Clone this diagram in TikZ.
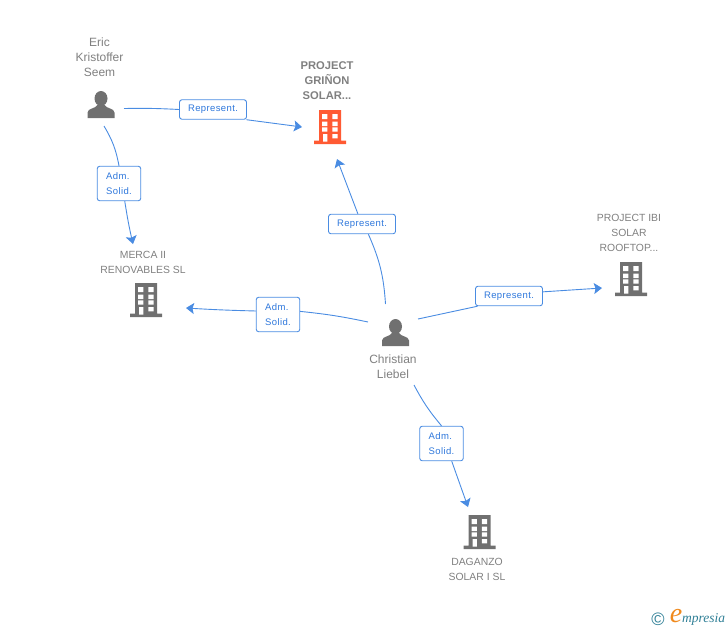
\documentclass[tikz,border=0pt]{standalone}
\usepackage{fontspec}
\setmainfont{Liberation Sans}
\newfontfamily\logofont{Liberation Serif}
\newfontfamily\boxfont[LetterSpace=4]{Liberation Sans}
\usetikzlibrary{arrows.meta}
\definecolor{linkblue}{HTML}{4A8CE2}
\definecolor{textblue}{HTML}{2F78DC}
\definecolor{icongray}{HTML}{707070}
\definecolor{labelgray}{HTML}{808080}
\definecolor{iconred}{HTML}{FF5A33}
\definecolor{logoteal}{HTML}{2F7F96}
\definecolor{logoorange}{HTML}{F08A1E}
\tikzset{
	linkbox/.style={draw=linkblue,line width=0.9pt,rounded corners=2.5pt,fill=white,text=textblue,inner sep=0pt,font=\boxfont\fontsize{9.5}{15}\selectfont},
	repbox/.style={linkbox,minimum width=67pt,minimum height=19.5pt},
	admbox/.style={linkbox,align=left,minimum width=43.5pt,minimum height=34.5pt},
	link/.style={draw=linkblue,line width=0.9pt},
	arrowlink/.style={link,-{Stealth[length=8pt,width=11pt,inset=1.5pt]}},
	companyname/.style={text=labelgray,align=center,inner sep=0pt,font=\fontsize{10.4}{15}\selectfont},
	personname/.style={text=labelgray,align=center,inner sep=0pt,font=\fontsize{12}{15}\selectfont},
	pics/building/.style={code={
		\fill[#1] (-11,-17) rectangle (11,15) (-16,13.5) rectangle (16,17);
		\fill[white] (-8,-13) rectangle (-2.7,-8) (2.3,-13) rectangle (7.7,-8)
			(-8,-5.3) rectangle (-2.7,-1) (2.3,-5.3) rectangle (7.7,-1)
			(-8,0.3) rectangle (-2.7,4.7) (2.3,0.3) rectangle (7.7,4.7)
			(-7,7) rectangle (-2.7,14.7) (2.3,7) rectangle (7.7,11.3);
	}},
	pics/person/.style={code={
		\fill[icongray] (0,-6.5) ellipse (6.5 and 7.5);
		\fill[icongray] (-13.5,13) -- (-13.5,7.5) .. controls (-13,3) and (-6,4) .. (-3.5,0)
			-- (3.5,0) .. controls (6,4) and (13,3) .. (13.5,7.5) -- (13.5,13) -- cycle;
	}}
}
\begin{document}
\begin{tikzpicture}[x=1pt,y=-1pt,line join=round]
	\useasboundingbox (0,0) rectangle (728,630);
	% people
	\pic at (101,105) {person};
	\pic at (395.5,333) {person};
	\node[personname] (eric) at (99.5,57) {Eric\\Kristoffer\\Seem};
	\node[personname] (christian) at (393,367) {Christian\\Liebel};
	% companies
	\pic at (330,127) {building=iconred};
	\pic at (146,300) {building=icongray};
	\pic at (631,279) {building=icongray};
	\pic at (479.5,532) {building=icongray};
	\node[companyname,font=\fontsize{11.2}{15}\selectfont\bfseries] (grinon) at (327,81) {PROJECT\\GRI\~NON\\SOLAR...};
	\node[companyname] (merca) at (143,262) {MERCA II\\RENOVABLES SL};
	\node[companyname] (ibi) at (629,233) {PROJECT IBI\\SOLAR\\ROOFTOP...};
	\node[companyname] (daganzo) at (477,569) {DAGANZO\\SOLAR I SL};
	% labels
	\node[repbox] (rep1) at (213,109.5) {Represent.};
	\node[admbox] (adm1) at (119,183.5) {Adm.\\Solid.};
	\node[repbox] (rep2) at (362,224) {Represent.};
	\node[admbox] (adm2) at (278,314.5) {Adm.\\Solid.};
	\node[repbox] (rep3) at (509,296) {Represent.};
	\node[admbox] (adm3) at (441.5,443.5) {Adm.\\Solid.};
	% free ends
	\coordinate (ericr) at (124,108.5);
	\coordinate (ericb) at (104,126);
	\coordinate (chrt) at (385.5,304);
	\coordinate (chrl) at (368,322);
	\coordinate (chrr) at (418,319);
	\coordinate (chrb) at (414,385);
	\coordinate (togrinona) at (302,127);
	\coordinate (togrinonb) at (337,159);
	\coordinate (tomerca) at (133,244);
	\coordinate (tomercb) at (186,308);
	\coordinate (toibi) at (602,288);
	\coordinate (todaganzo) at (468,507);
	% connectors
	\draw[link] (ericr) to[bend left=2] (rep1.west);
	\draw[arrowlink] (rep1.-17) -- (togrinona);
	\draw[link] (ericb) to[bend left=10] (adm1.north);
	\draw[arrowlink] (adm1.-72) to[bend right=2] (tomerca);
	\draw[link] (chrt) to[bend right=10] (rep2.-58);
	\draw[arrowlink] (rep2.112) -- (togrinonb);
	\draw[link] (chrl) to[bend right=3] (adm2.8);
	\draw[arrowlink] (adm2.171) to[bend left=1] (tomercb);
	\draw[link] (chrr) -- (rep3.-162);
	\draw[arrowlink] (rep3.7) -- (toibi);
	\draw[link] (chrb) to[bend right=6] (adm3.north);
	\draw[arrowlink] (adm3.-60) -- (todaganzo);
	% logo
	\node[inner sep=0pt,text=logoteal,font=\fontsize{18}{18}\selectfont] (copyr) at (658,619) {©};
	\node[inner sep=0pt,text=logoorange,font=\logofont\itshape\fontsize{28}{28}\selectfont] (logoe) at (676,616) {e};
	\node[inner sep=0pt,text=logoteal,anchor=west,font=\logofont\itshape\fontsize{13.5}{13.5}\selectfont] (logotext) at (682,619) {mpresia};
\end{tikzpicture}
\end{document}
